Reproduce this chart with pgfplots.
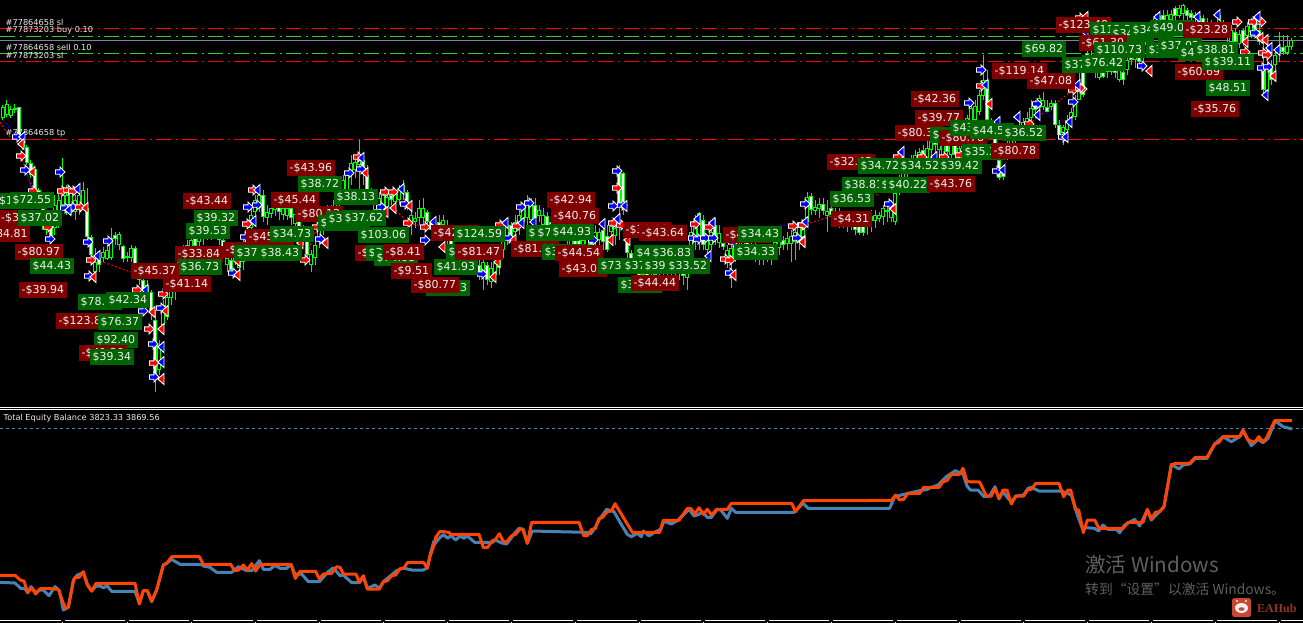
\documentclass[border=0pt]{standalone}
\usepackage{fontspec}
\usepackage{pgfplots}
\usepackage{pgfplotstable}
\pgfplotsset{compat=1.18}
\setmainfont{DejaVu Sans}
\newfontfamily\cjk{Noto Sans CJK SC}
\newfontfamily\serifb{Liberation Serif}
\definecolor{lr}{RGB}{128,0,0}
\definecolor{lg}{RGB}{0,100,0}
\definecolor{cand}{RGB}{0,255,0}
\definecolor{eqblue}{RGB}{70,130,180}
\definecolor{eqorange}{RGB}{255,69,0}
\definecolor{gridgrey}{RGB}{119,136,153}
\definecolor{lvlred}{RGB}{255,0,0}
\definecolor{lvlgreen}{RGB}{50,205,50}
\definecolor{wm}{RGB}{95,95,95}
\definecolor{logo}{RGB}{196,72,50}

\pgfdeclareplotmark{tarrow}{%
  \pgfpathmoveto{\pgfpoint{-4.5pt}{-2.2pt}}%
  \pgfpathlineto{\pgfpoint{0pt}{-2.2pt}}%
  \pgfpathlineto{\pgfpoint{0pt}{-5pt}}%
  \pgfpathlineto{\pgfpoint{5pt}{0pt}}%
  \pgfpathlineto{\pgfpoint{0pt}{5pt}}%
  \pgfpathlineto{\pgfpoint{0pt}{2.2pt}}%
  \pgfpathlineto{\pgfpoint{-4.5pt}{2.2pt}}%
  \pgfpathclose\pgfusepathqfillstroke}
\pgfdeclareplotmark{ttri}{%
  \pgfpathmoveto{\pgfpoint{3pt}{-5.5pt}}%
  \pgfpathlineto{\pgfpoint{3pt}{5.5pt}}%
  \pgfpathlineto{\pgfpoint{-3.2pt}{0pt}}%
  \pgfpathclose\pgfusepathqfillstroke}

\pgfplotsset{
    profit label/.style={only marks, mark=none, point meta=explicit symbolic,
        visualization depends on={\thisrow{c} \as \won},
        nodes near coords,
        nodes near coords style={/utils/exec={\ifdim\won pt>0.5pt\def\bc{lg}\else\def\bc{lr}\fi},
            anchor=west, fill=\bc, text=white!94!black, font=\fontsize{11}{12}\selectfont,
            inner xsep=2.5pt, inner ysep=0pt, minimum height=16pt, #1}},
    profit label/.default={},
    note/.style={},
}
\tikzset{note/.style={anchor=west, inner sep=0pt, text=white!92!black, font=\fontsize{8.2}{9}\selectfont}}

% wick, body, then the body's core
\newcommand{\candles}[2]{%
\addplot[draw=none, mark=none, error bars/.cd, y dir=plus, y explicit, error mark=none, error bar style={cand, line width=1pt}]
    table[x=x, y=hi, y error plus expr=\thisrow{lo}-\thisrow{hi}] {#1};
\addplot[draw=none, mark=none, error bars/.cd, y dir=plus, y explicit, error mark=none, error bar style={cand, line width=3.4pt}]
    table[x=x, y=top, y error plus expr=\thisrow{bot}-\thisrow{top}] {#1};
\addplot[draw=none, mark=none, error bars/.cd, y dir=plus, y explicit, error mark=none, error bar style={#2, line width=1.4pt}]
    table[x=x, y expr=\thisrow{top}+1, y error plus expr=\thisrow{bot}-\thisrow{top}-2] {#1};
}

% candles, pixel rows: x high low bodytop bodybottom
\pgfplotstableread{
x hi lo top bot
3 105 120 107 118
7 100 117 104 115
11 106 118 109 116
47 215 235 220 230
55 195 235 205 228
59 190 228 200 220
63 158 210 195 205
67 185 215 195 208
71 188 215 193 205
75 195 220 200 212
79 190 215 195 210
83 182 210 190 208
95 248 275 262 272
103 247 262 252 258
107 245 260 250 259
111 228 260 238 258
119 232 250 234 245
131 245 262 248 258
147 280 300 285 295
159 340 375 345 370
163 300 330 305 325
167 290 320 297 317
171 275 305 280 298
175 265 300 270 285
179 250 275 255 268
183 245 270 250 262
187 240 262 245 255
191 235 258 240 250
199 228 248 232 242
203 225 245 228 238
211 222 240 225 235
215 218 238 222 232
227 250 272 258 265
235 245 265 250 260
239 250 272 258 268
243 240 270 245 262
247 225 245 230 240
251 208 232 215 228
255 195 215 200 212
259 190 212 195 208
267 205 225 212 218
271 202 218 208 214
275 200 216 205 210
283 205 220 208 215
287 205 220 208 216
295 210 228 214 224
311 250 272 254 265
315 240 265 245 258
319 225 248 230 242
323 215 235 220 230
327 205 228 210 222
335 195 220 200 212
339 185 208 190 200
343 175 205 180 198
347 172 195 175 190
351 155 185 163 173
355 155 178 162 170
359 140 190 158 165
375 195 215 198 210
379 192 215 198 208
383 190 212 195 208
387 192 212 197 207
395 190 205 194 202
399 185 205 190 200
411 205 235 215 223
415 212 228 218 222
419 200 225 208 218
423 198 225 208 218
435 222 240 226 232
443 215 235 220 225
463 245 262 250 258
483 258 290 262 272
491 262 288 268 282
495 255 280 263 275
499 250 275 255 268
503 225 258 232 250
507 220 245 225 240
515 215 240 222 232
519 210 235 215 228
523 205 228 208 222
527 195 225 200 218
531 198 222 205 220
539 205 222 210 216
543 208 230 215 225
555 220 240 225 235
563 225 240 228 236
571 232 250 236 245
583 235 252 240 248
587 230 250 235 246
595 225 248 232 242
599 228 245 232 240
611 220 240 226 232
615 222 245 228 236
643 260 280 265 275
651 260 278 265 274
663 260 278 263 272
671 258 275 262 270
687 255 290 265 278
691 225 260 232 250
695 215 250 220 240
699 212 250 213 240
707 235 258 240 250
711 228 250 232 245
719 225 248 233 243
727 245 268 250 263
731 245 288 248 262
743 235 255 240 250
751 240 258 244 254
759 245 265 248 258
767 245 262 250 258
775 238 258 242 250
779 235 255 240 248
787 232 250 238 244
791 230 262 236 244
795 228 260 232 242
799 225 250 226 240
803 220 240 227 237
807 192 225 197 222
815 200 215 207 211
819 198 218 204 209
827 200 232 211 216
835 208 225 212 218
843 212 228 216 224
851 215 230 220 226
867 215 235 218 225
871 210 232 216 221
875 210 228 215 221
879 212 222 215 219
883 205 225 208 217
891 200 222 208 218
895 190 225 193 222
899 175 195 180 190
903 165 185 170 180
907 160 178 162 172
915 150 170 155 162
919 148 172 152 165
927 140 165 148 158
931 135 160 140 150
939 135 160 140 150
943 140 165 145 155
951 140 160 145 155
959 140 165 148 158
967 115 135 118 128
971 105 125 108 122
975 100 122 106 120
979 90 115 95 112
983 55 100 80 96
1007 140 160 145 152
1011 130 150 135 145
1015 125 145 128 140
1019 120 140 125 135
1023 118 135 122 130
1027 112 135 118 128
1031 100 125 108 118
1039 95 110 98 108
1043 92 110 100 107
1051 100 110 103 107
1063 125 145 127 133
1067 115 135 120 130
1071 108 125 112 118
1075 95 120 100 117
1079 62 100 85 100
1099 65 80 70 78
1107 65 78 68 72
1111 62 75 68 72
1119 65 82 70 80
1127 55 75 60 70
1135 50 68 56 60
1143 40 62 45 55
1147 30 50 35 45
1151 20 40 25 35
1155 14 30 18 25
1159 12 28 16 24
1167 10 26 15 22
1171 10 25 14 20
1179 5 18 8 16
1183 4 20 5 14
1195 12 22 15 18
1207 18 32 22 28
1219 12 30 15 25
1231 25 45 30 42
1239 30 48 34 44
1247 22 42 26 36
1251 18 38 22 32
1267 48 100 68 92
1275 50 70 55 65
1279 32 62 47 53
1287 35 55 46 53
1291 38 50 40 47
}\upcand
\pgfplotstableread{
x hi lo top bot
15 104 113 108 110
19 107 140 107 137
23 137 150 140 147
27 145 165 147 163
31 160 178 163 175
35 168 192 169 190
39 188 205 190 203
43 200 230 203 226
51 220 245 222 238
87 188 240 208 237
91 235 258 237 255
99 255 272 258 265
115 232 245 235 239
123 245 262 246 259
127 252 262 256 258
135 246 270 248 267
139 265 285 268 280
143 278 295 280 290
151 290 320 292 312
155 310 392 320 380
195 233 250 238 246
207 225 240 228 235
219 222 245 225 240
223 238 258 240 252
231 255 275 260 270
263 190 222 195 217
279 200 220 205 212
291 205 225 208 218
299 215 232 218 228
303 225 245 228 240
307 238 262 240 255
331 205 225 208 218
363 155 185 160 170
367 165 195 175 190
371 188 205 190 200
391 190 205 195 200
403 180 200 185 192
407 190 210 192 205
427 210 230 212 222
431 220 235 222 230
439 215 235 222 226
447 220 245 225 238
451 235 258 240 250
455 245 265 248 258
459 250 265 252 260
467 248 265 252 260
471 252 270 255 265
475 255 272 260 268
479 260 280 265 274
487 262 285 265 280
511 222 245 225 238
535 198 225 205 218
547 212 232 216 226
551 218 240 222 232
559 222 240 225 235
567 225 245 228 240
575 235 250 238 246
579 238 255 240 250
591 232 250 236 245
603 228 250 230 242
607 225 252 236 250
619 165 240 173 205
623 172 215 173 207
627 238 258 240 253
631 250 268 253 260
635 255 272 258 268
639 260 280 265 276
647 262 282 268 278
655 262 280 265 275
659 262 278 265 274
667 258 278 262 272
675 258 278 262 272
679 262 280 265 274
683 262 285 266 276
703 215 250 220 245
715 218 245 225 240
723 230 250 243 247
735 242 262 246 258
739 240 255 244 252
747 235 258 242 252
755 243 262 247 255
763 245 265 250 258
771 245 265 248 256
783 236 250 240 245
811 193 215 196 210
823 198 215 204 211
831 205 222 208 215
839 208 228 214 222
847 215 232 218 225
855 218 235 222 230
859 222 235 226 233
863 222 236 226 233
887 205 222 210 212
911 155 172 158 165
923 145 165 150 158
935 132 155 135 145
947 140 160 145 152
955 142 160 145 155
963 128 155 132 148
987 70 122 80 120
991 118 138 120 130
995 128 155 132 148
999 150 180 160 178
1003 165 180 168 177
1035 100 118 105 110
1047 100 112 107 112
1055 100 128 103 125
1059 120 140 125 135
1083 60 97 63 95
1087 50 65 53 60
1091 50 70 55 65
1095 55 78 58 72
1103 68 78 72 77
1115 65 78 69 73
1123 68 85 72 80
1131 50 65 55 60
1139 52 68 57 62
1163 10 25 15 20
1175 6 20 8 16
1187 8 20 10 16
1191 10 22 13 18
1199 12 25 16 22
1203 15 30 18 26
1211 20 35 24 30
1215 22 38 26 34
1223 20 36 24 32
1227 25 42 30 38
1235 28 46 32 42
1243 28 46 30 42
1255 15 34 18 30
1259 15 45 30 42
1263 40 95 70 90
1271 60 85 65 80
1283 35 55 47 52
}\dncand

% labels cut by the left edge: their points stay in the axis, dx moves the box out
\pgfplotstableread{
x y c dx lab
0.5 201 1 -4 \$101.22
0.5 218 0 -2 -\$39.15
0.5 234 0 -18 -\$84.81
}\edgelabels

% profit labels in drawing order: left edge, middle, won (1) or lost (0), text
\pgfplotstableread{
x y c lab
10 200 1 \$72.55
18 218 1 \$37.02
15 252 0 -\$80.97
30 266 1 \$44.43
19 290 0 -\$39.94
78 302 1 \$78.12
106 300 1 \$42.34
56 321 0 -\$123.86
98 322 1 \$76.37
94 340 1 \$92.40
79 353 0 -\$41.20
90 357 1 \$39.34
183 201 0 -\$43.44
194 218 1 \$39.32
186 231 1 \$39.53
223 250 0 -\$42.18
175 254 0 -\$33.84
178 267 1 \$36.73
131 271 0 -\$45.37
163 284 0 -\$41.14
246 237 0 -\$45.10
234 253 1 \$37.45
258 253 1 \$38.43
270 234 1 \$34.73
271 200 0 -\$45.44
295 214 0 -\$80.12
318 223 1 \$35.20
326 219 1 \$36.11
342 218 1 \$37.62
287 168 0 -\$43.96
298 184 1 \$38.72
334 197 1 \$38.13
358 235 1 \$103.06
355 253 0 -\$41.30
366 253 1 \$35.62
374 258 1 \$74.08
383 252 0 -\$8.41
391 271 0 -\$9.51
426 288 1 \$40.73
411 285 0 -\$80.77
434 267 1 \$41.93
431 233 0 -\$42.61
454 234 1 \$124.59
446 252 1 \$36.40
455 252 0 -\$81.47
511 249 0 -\$81.20
542 252 1 \$35.90
526 233 1 \$38.25
535 233 1 \$73.18
550 232 1 \$44.93
547 200 0 -\$42.94
551 216 0 -\$40.76
555 253 0 -\$44.54
559 269 0 -\$43.05
598 266 1 \$73.60
622 266 1 \$37.22
642 266 1 \$39.15
666 266 1 \$33.52
634 253 1 \$43.50
650 253 1 \$36.83
623 230 0 -\$39.88
639 233 0 -\$43.64
618 285 1 \$36.02
631 283 0 -\$44.44
723 235 0 -\$42.70
738 234 1 \$34.43
734 252 1 \$34.33
831 219 0 -\$4.31
830 199 1 \$36.53
842 185 1 \$38.81
879 185 1 \$35.70
886 185 1 \$40.22
827 162 0 -\$32.45
858 166 1 \$34.72
898 166 1 \$34.52
911 99 0 -\$42.36
915 118 0 -\$39.77
895 133 0 -\$80.36
930 135 1 \$41.20
939 138 0 -\$80.78
950 128 1 \$43.60
970 131 1 \$44.55
1002 133 1 \$36.52
962 152 1 \$35.31
991 151 0 -\$80.78
938 166 1 \$39.42
927 184 0 -\$43.76
992 71 0 -\$119.14
1027 81 0 -\$47.08
1056 25 0 -\$123.40
1090 30 1 \$112.30
1110 34 1 \$34.70
1130 30 1 \$34.20
1150 28 1 \$49.05
1079 43 0 -\$61.30
1022 49 1 \$69.82
1062 65 1 \$37.44
1094 50 1 \$110.73
1082 63 1 \$76.42
1146 50 1 \$36.60
1158 46 1 \$37.02
1175 72 0 -\$60.69
1178 53 1 \$41.80
1194 50 1 \$38.81
1183 30 0 -\$23.28
1202 62 1 \$35.27
1210 62 1 \$39.11
1206 88 1 \$48.51
1191 109 0 -\$35.76
}\labels

\begin{document}
\begin{tikzpicture}
\begin{axis}[
    width=1303pt, height=623pt, scale only axis,
    xmin=0, xmax=1303, ymin=0, ymax=623,
    y dir=reverse,
    axis lines=none, ticks=none,
    axis background/.style={fill=black},
    clip mode=global,
    cycle list={{black}},
    every axis plot/.append style={forget plot},
]
% horizontal order levels
\addplot[lvlred, line width=1pt, dash pattern=on 15pt off 5pt on 2pt off 4pt] coordinates {(0,28.5)(1303,28.5)};
\addplot[lvlgreen, line width=1pt, dash pattern=on 15pt off 5pt on 2pt off 4pt] coordinates {(0,36.5)(1303,36.5)};
\addplot[gridgrey, line width=1pt] coordinates {(0,40.5)(1303,40.5)};
\addplot[lvlgreen, line width=1pt, dash pattern=on 15pt off 5pt on 2pt off 4pt] coordinates {(0,53.5)(1303,53.5)};
\addplot[lvlred, line width=1pt, dash pattern=on 15pt off 5pt on 2pt off 4pt] coordinates {(0,61.5)(1303,61.5)};
\addplot[lvlred, line width=1pt, dash pattern=on 15pt off 5pt on 2pt off 4pt] coordinates {(0,139.5)(1303,139.5)};

% trade connectors
\addplot[lvlred, line width=1pt, dash pattern=on 2pt off 2pt, unbounded coords=jump] coordinates {
(0,122)(10,137) (nan,nan) (21,156)(33,191) (nan,nan) (55,210)(62,191) (nan,nan) (100,261)(131,272)
(nan,nan) (305,260)(317,227) (nan,nan) (393,208)(409,223) (nan,nan) (409,223)(425,227) (nan,nan) (810,223)(832,216)
(nan,nan) (860,192)(880,195) (nan,nan) (1029,124)(1073,90)};
\addplot[blue, line width=1pt, dash pattern=on 2pt off 2pt, unbounded coords=jump] coordinates {
(3,120)(17,137) (nan,nan) (25,170)(32,190) (nan,nan) (88,242)(95,262) (nan,nan) (108,241)(118,250)
(nan,nan) (257,205)(280,215) (nan,nan) (405,205)(425,240) (nan,nan) (529,203)(550,215) (nan,nan) (780,225)(793,226)
(nan,nan) (1037,104)(1060,125)};

% candles
\candles{\upcand}{black}
\candles{\dncand}{white}

% trade markers
\addplot[only marks, mark=tarrow, mark options={draw=white, fill=blue, line width=.9pt}] coordinates {
(17,137)(25,170)(60,172)(65,208)(72,207)(50,239)(88,242)(108,241)(89,276)(143,311)(161,308)(153,344)(154,377)
(248,207)(257,205)(245,237)(233,273)(320,239)(349,173)(361,169)(381,207)(405,204)(425,240)(482,274)(509,238)
(521,207)(529,203)(593,240)(617,171)(613,206)(622,205)(693,238)(698,239)(705,238)(713,238)(733,242)(730,273)
(797,238)(805,204)(889,204)(969,103)(997,171)(1037,104)(1073,102)(1063,137)(981,70)(1142,66)(1255,33)(1262,68)(1268,67)};
\addplot[only marks, mark=tarrow, mark options={draw=white, fill=red, line width=.9pt}] coordinates {
(21,156)(33,191)(62,191)(68,190)(73,191)(48,227)(80,207)(91,260)(137,290)(163,294)(149,329)(154,363)
(253,190)(247,224)(305,260)(317,227)(358,157)(385,192)(393,192)(408,223)(425,227)(500,225)(517,226)(613,223)(617,188)(621,225)
(695,224)(709,227)(725,259)(730,260)(793,226)(802,225)(803,225)(898,157)(922,157)(944,157)(960,155)(981,86)(1029,124)
(1073,90)(1082,89)(1080,18)(1080,88)(1237,22)(1253,22)(1261,22)(1245,52)(1263,53)(1267,55)};
\addplot[only marks, mark=ttri, mark options={draw=white, fill=blue, line width=.9pt}] coordinates {
(22,137)(77,189)(68,210)(97,256)(145,290)(161,347)(161,362)(257,190)(253,221)(361,158)(401,189)(433,222)
(505,223)(521,223)(533,222)(602,224)(624,206)(617,219)(697,219)(712,223)(708,256)(805,222)(901,152)(934,157)
(985,85)(1002,170)(997,122)(1017,117)(1037,115)(1069,122)(1065,137)(1077,85)(1085,32)(1157,17)(1197,17)(1217,15)
(1257,17)(1269,48)(1277,50)(1265,95)};
\addplot[only marks, mark=ttri, mark options={draw=white, fill=red, line width=.9pt}] coordinates {
(21,144)(32,172)(85,208)(93,277)(152,312)(165,311)(161,329)(161,379)(237,275)(237,261)(325,243)(300,243)
(365,173)(393,208)(385,212)(409,206)(442,247)(513,240)(497,262)(493,277)(610,240)(627,240)(733,275)(802,241)
(802,242)(893,209)(989,104)(1149,71)(1085,17)(1245,42)(1260,38)(1265,40)(1273,76)};

% profit labels
\addplot[profit label={xshift=\dx pt}, visualization depends on={\thisrow{dx} \as \dx}]
    table[x=x, y=y, meta=lab] {\edgelabels};
\addplot[profit label] table[x=x, y=y, meta=lab] {\labels};

% level notes
\node[note] at (axis cs:5.5,22.5) {\#77864658 sl};
\node[note] at (axis cs:5.5,30.5) {\#77873203 buy 0.10};
\node[note] at (axis cs:5.5,47.5) {\#77864658 sell 0.10};
\node[note] at (axis cs:5.5,55.5) {\#77873203 sl};
\node[note] at (axis cs:5.5,133.5) {\#77864658 tp};

% indicator window frame
\addplot[white, line width=1pt] coordinates {(0,407.5)(1303,407.5)};
\addplot[white, line width=1pt] coordinates {(0,409.5)(1303,409.5)};
\addplot[eqblue, line width=1pt, dash pattern=on 3pt off 3pt] coordinates {(0,428.5)(1303,428.5)};
\node[note] at (axis cs:3.5,418.5) {Total Equity Balance 3823.33 3869.56};

% equity, read off in 3x crops: each part has its own offset
\addplot[eqblue, line width=3pt, line join=round] table[x expr=\thisrowno{0}/3, y expr=\thisrowno{1}/3+400, header=false] {
0 547
45 549
62 565
75 566
83 578
93 560
107 577
120 570
130 570
147 587
165 560
178 572
190 630
205 622
220 540
232 525
250 518
262 552
275 573
288 558
300 558
310 563
322 558
335 574
405 574
418 610
430 572
442 572
455 605
470 570
490 495
500 490
515 478
540 493
605 493
610 498
630 502
650 517
695 517
715 500
740 512
755 512
778 482
790 508
810 508
825 496
840 505
860 505
873 493
885 522
905 522
925 545
958 545
985 515
1000 503
1020 527
1030 525
1055 548
1078 548
1090 530
1102 565
1125 555
1138 565
1150 545
1190 512
1210 504
1235 510
1270 510
1282 503
1290 465
1302 422
};
\addplot[eqblue, line width=3pt, line join=round] table[x expr=\thisrowno{0}/3+434, y expr=\thisrowno{1}/3+450, header=false] {
0 285
15 265
28 254
42 265
50 256
65 270
78 258
90 265
100 258
122 277
175 277
185 270
200 278
218 282
240 252
255 235
268 238
280 280
295 243
370 245
460 247
470 252
485 230
495 210
518 178
540 185
560 220
580 253
592 260
610 250
622 260
628 243
645 258
665 245
680 238
690 214
712 222
730 212
765 178
780 198
795 193
805 185
820 202
832 202
850 178
860 180
880 205
892 175
905 187
1080 187
1108 160
1122 175
1302 175
};
\addplot[eqblue, line width=3pt, line join=round] table[x expr=\thisrowno{0}/3+868, y expr=\thisrowno{1}/3+400, header=false] {
0 325
65 325
80 290
120 280
155 272
178 268
190 262
210 255
235 230
262 212
285 222
297 258
307 270
330 270
348 290
365 288
381 260
393 297
405 275
420 295
430 305
445 288
467 285
480 265
490 262
513 273
580 273
610 285
630 350
642 382
680 385
692 393
705 375
720 388
745 388
755 398
770 375
800 358
815 378
838 330
850 360
875 335
888 320
910 193
933 207
945 195
965 192
982 175
1017 175
1040 132
1065 110
1090 125
1115 110
1125 93
1150 137
1170 118
1185 128
1200 115
1222 63
1245 80
1272 87
};
\addplot[eqorange, line width=3pt, line join=round] table[x expr=\thisrowno{0}/3, y expr=\thisrowno{1}/3+400, header=false] {
0 526
45 526
62 541
72 543
83 578
95 563
107 582
120 566
150 566
175 568
190 610
197 625
205 622
220 545
225 532
237 532
250 515
262 555
275 573
288 550
405 550
418 612
430 572
442 572
455 603
470 570
490 495
500 490
515 470
598 470
610 493
692 493
704 512
716 510
730 495
742 510
755 491
767 513
780 493
873 493
886 535
900 514
947 514
958 537
970 522
995 520
1010 500
1020 502
1030 522
1068 522
1078 547
1090 527
1102 567
1138 567
1150 546
1162 542
1175 527
1187 525
1200 506
1212 504
1222 488
1272 488
1282 505
1290 470
1302 435
};
\addplot[eqorange, line width=3pt, line join=round] table[x expr=\thisrowno{0}/3+434, y expr=\thisrowno{1}/3+450, header=false] {
0 285
5 262
18 244
45 247
50 253
135 253
148 293
160 293
175 272
185 268
196 251
208 275
218 275
232 258
245 253
258 237
266 237
280 280
293 217
435 217
449 257
460 257
473 238
484 236
495 205
505 203
520 185
532 183
543 161
595 247
677 247
688 211
735 211
760 175
770 175
783 192
795 173
808 193
820 178
832 195
848 178
880 178
892 160
1073 160
1085 185
1108 152
1302 152
};
\addplot[eqorange, line width=3pt, line join=round] table[x expr=\thisrowno{0}/3+868, y expr=\thisrowno{1}/3+400, header=false] {
0 301
70 301
83 285
95 300
107 298
120 280
155 280
167 262
213 262
225 245
237 242
250 223
275 223
285 205
297 245
335 246
355 288
370 288
381 265
393 295
405 270
417 270
430 312
443 288
467 288
478 270
490 268
503 250
573 250
587 290
600 270
608 270
622 328
632 330
646 398
658 360
680 360
693 385
765 385
780 367
825 367
838 328
850 357
862 337
875 335
888 320
910 195
922 190
965 190
982 172
1017 172
1040 132
1052 128
1065 110
1115 110
1125 90
1140 120
1160 127
1172 110
1185 125
1195 115
1220 62
1272 62
};

% time scale at the foot
\addplot[white, line width=1pt] coordinates {(0,620.5)(1303,620.5)};
\addplot[only marks, mark=none, error bars/.cd, y dir=plus, y explicit, error mark=none, error bar style={white, line width=1pt}] coordinates {
(63,620) +- (0,3) (127,620) +- (0,3) (191,620) +- (0,3) (255,620) +- (0,3) (319,620) +- (0,3) (383,620) +- (0,3)
(447,620) +- (0,3) (511,620) +- (0,3) (575,620) +- (0,3) (639,620) +- (0,3) (703,620) +- (0,3) (767,620) +- (0,3)
(831,620) +- (0,3) (895,620) +- (0,3) (959,620) +- (0,3) (1023,620) +- (0,3) (1087,620) +- (0,3) (1151,620) +- (0,3)
(1215,620) +- (0,3) (1279,620) +- (0,3)};

% desktop watermark and site logo
\node[anchor=west, inner sep=0pt, text=wm, font=\cjk\fontsize{20.6}{22}\selectfont] at (axis cs:1085,565) {激活 Windows};
\node[anchor=west, inner sep=0pt, text=wm, font=\cjk\fontsize{13.8}{15}\selectfont] at (axis cs:1085,589) {转到“设置”以激活 Windows。};
\fill[logo, rounded corners=2.5pt] (axis cs:1232,598) rectangle (axis cs:1251,617);
\fill[white!90!logo] (axis cs:1241.5,608) ellipse[x radius=6.5pt, y radius=5pt];
\fill[white!90!logo] (axis cs:1237,601) circle[radius=1.2pt] (axis cs:1246,601) circle[radius=1.2pt];
\fill[logo] (axis cs:1241.5,609) ellipse[x radius=3pt, y radius=1.8pt];
\node[anchor=west, inner sep=0pt, text=logo!75!black, font=\serifb\bfseries\fontsize{12}{13}\selectfont] at (axis cs:1257,608) {EAHub};
\end{axis}
\pgfresetboundingbox
\path[use as bounding box] (current axis.south west) rectangle (current axis.north east);
\end{tikzpicture}
\end{document}
